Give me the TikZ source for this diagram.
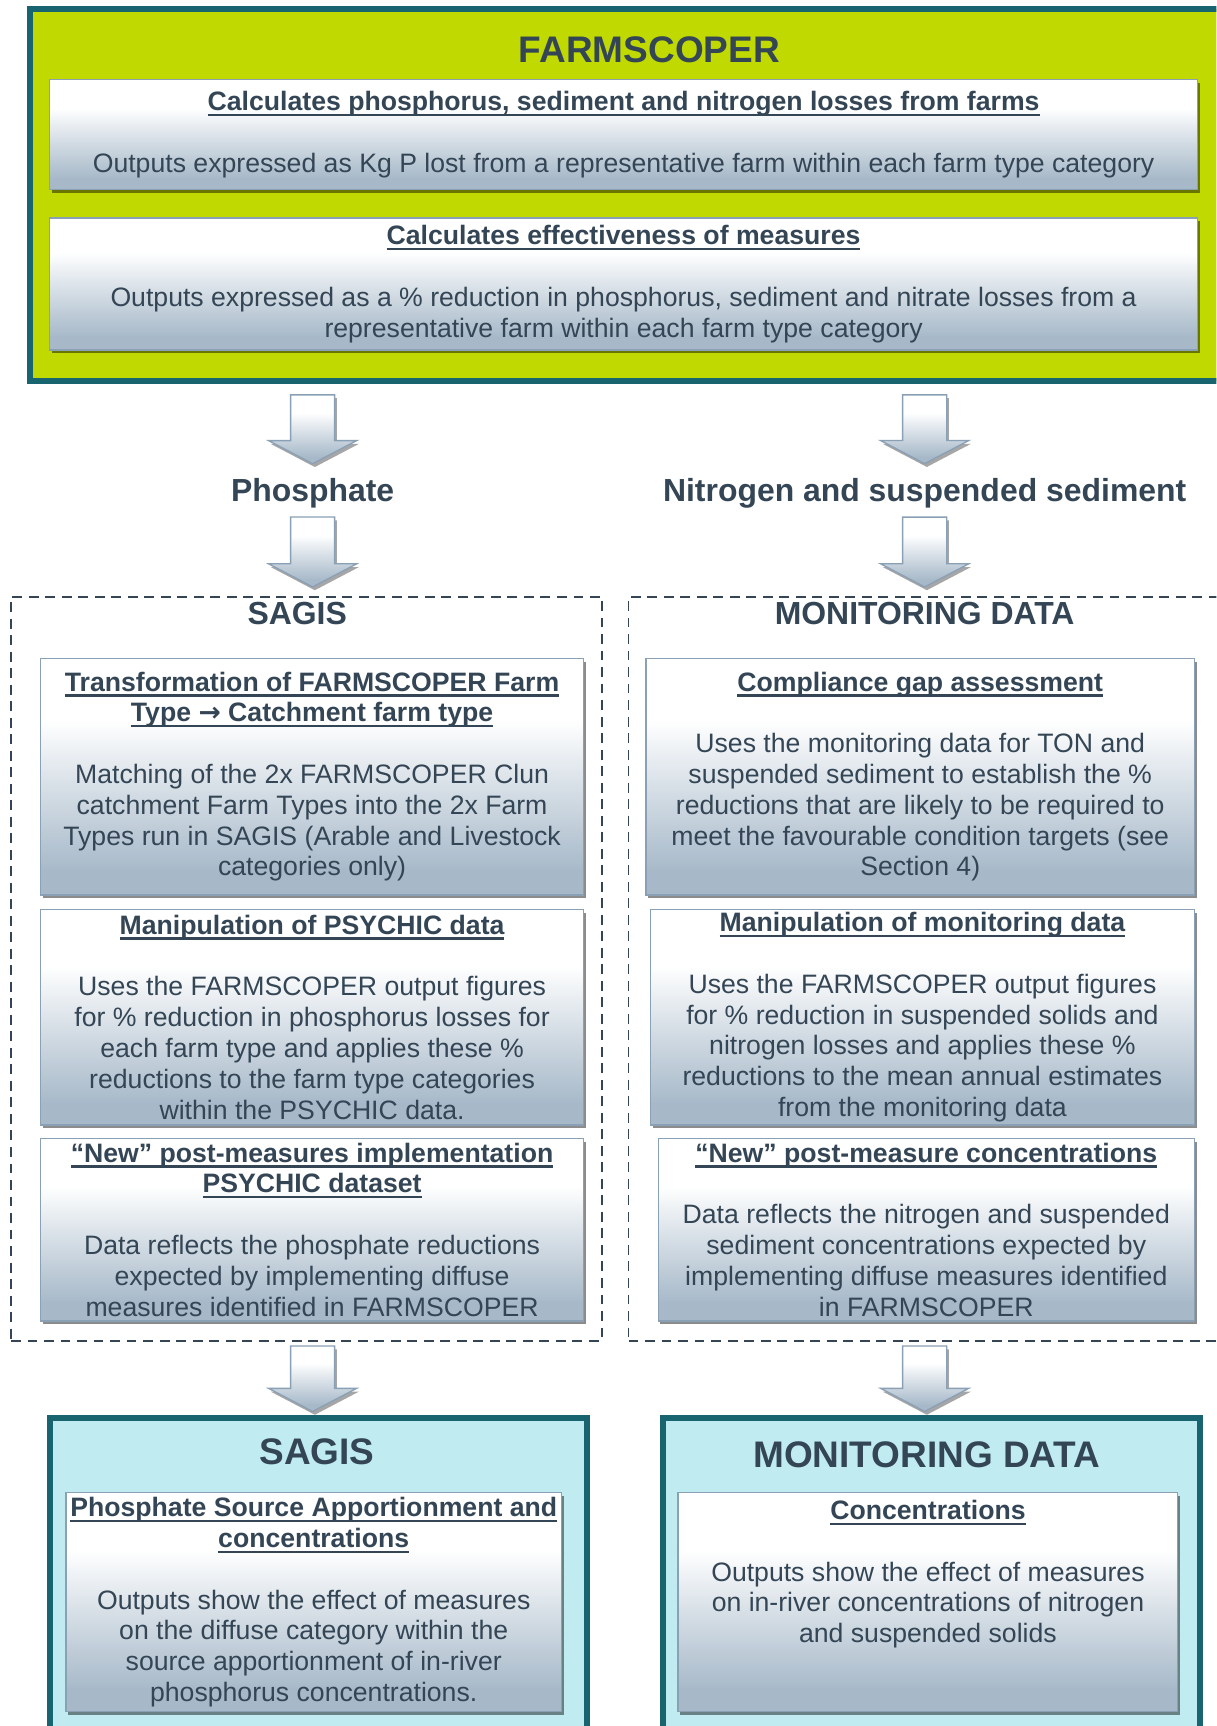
\documentclass[tikz,border=0pt]{standalone}
\usepackage{fontspec}
\setmainfont{Liberation Sans}
\newfontfamily\arrowfont{DejaVu Sans}
\usetikzlibrary{calc,shadows}

\definecolor{limefill}{RGB}{192,217,0}
\definecolor{tealedge}{RGB}{24,101,111}
\definecolor{slatetext}{RGB}{52,70,85}
\definecolor{panelgray}{RGB}{167,185,201}
\definecolor{paneledge}{RGB}{138,160,181}
\definecolor{cyanfill}{RGB}{191,235,241}

\pgfdeclareverticalshading{panelshade}{100bp}{%
  color(0bp)=(panelgray); color(30bp)=(panelgray);
  color(48bp)=(panelgray!45!white); color(62bp)=(white); color(100bp)=(white)}

% bold heading line with underline
\newcommand{\ulhead}[1]{\setbox0=\hbox{\bfseries #1}\rlap{\rule[-5pt]{\wd0}{2pt}}\box0}

% block arrow from top point #1 down to tip #2
\newcommand{\flowarrow}[2]{%
  \path[flowarr] ($(#1)+(-20,0)$) -- ($(#1)+(20,0)$) -- ($(#2)+(20,-21)$)
    -- ($(#2)+(40,-21)$) -- (#2) -- ($(#2)+(-40,-21)$) -- ($(#2)+(-20,-21)$) -- cycle;}

\begin{document}
\begin{tikzpicture}[
    x=1pt, y=-1pt,
    every node/.style={text=slatetext, font=\fontsize{24.2}{28}\selectfont},
    hub/.style={rectangle, draw=tealedge, line width=5.5pt, inner sep=0pt},
    panel/.style={rectangle, draw=paneledge, line width=1.2pt, shading=panelshade,
        drop shadow={shadow xshift=2pt, shadow yshift=-3pt, fill=black, opacity=.45},
        align=center, inner sep=0pt},
    dashframe/.style={rectangle, draw=slatetext, line width=1.6pt, dash pattern=on 9pt off 6pt, inner sep=0pt},
    bigtitle/.style={font=\bfseries\fontsize{33.6}{38}\selectfont, inner sep=2pt},
    subtitle/.style={font=\bfseries\fontsize{29}{33}\selectfont, inner sep=2pt},
    flowarr/.style={draw=paneledge, line width=1.2pt, shading=panelshade,
        drop shadow={shadow xshift=2pt, shadow yshift=-3pt, fill=black, opacity=.35}}
]
\useasboundingbox (0,0) rectangle (1105,1568);
\clip (0,0) rectangle (1105,1568);

% FARMSCOPER block
\node[hub, fill=limefill, minimum width=1108, minimum height=338] (farm) at (581,177) {};
\node[bigtitle] (farmtitle) at (590,45) {FARMSCOPER};
\node[panel, minimum width=1043, minimum height=100] (losses) at (566.5,122) {
    \ulhead{Calculates phosphorus, sediment and nitrogen losses from farms}\\[28pt]
    Outputs expressed as Kg P lost from a representative farm within each farm type category
};
\node[panel, minimum width=1043, minimum height=120] (effect) at (566.5,258) {
    \ulhead{Calculates effectiveness of measures}\\[28pt]
    Outputs expressed as a \% reduction in phosphorus, sediment and nitrate losses from a\\
    representative farm within each farm type category
};

% Pollutant split
\node[subtitle] (phos) at (284,448) {Phosphate};
\node[subtitle] (nitro) at (840,448) {Nitrogen and suspended sediment};

% SAGIS processing
\node[dashframe, minimum width=537, minimum height=676] (sagisframe) at (278.5,880) {};
\node[subtitle] (sagistitle) at (270,557) {SAGIS};
\node[panel, minimum width=493, minimum height=215] (transform) at (283.5,705.5) {
    \ulhead{Transformation of FARMSCOPER Farm}\\
    \ulhead{Type {\arrowfont\bfseries →} Catchment farm type}\\[28pt]
    Matching of the 2x FARMSCOPER Clun\\
    catchment Farm Types into the 2x Farm\\
    Types run in SAGIS (Arable and Livestock\\
    categories only)
};
\node[panel, minimum width=493, minimum height=196] (psychic) at (283.5,924) {
    \ulhead{Manipulation of PSYCHIC data}\\[28pt]
    Uses the FARMSCOPER output figures\\
    for \% reduction in phosphorus losses for\\
    each farm type and applies these \%\\
    reductions to the farm type categories\\
    within the PSYCHIC data.
};
\node[panel, minimum width=493, minimum height=166] (newpsychic) at (283.5,1117) {
    \ulhead{“New” post-measures implementation}\\
    \ulhead{PSYCHIC dataset}\\[28pt]
    Data reflects the phosphate reductions\\
    expected by implementing diffuse\\
    measures identified in FARMSCOPER
};

% Monitoring data processing
\node[dashframe, minimum width=560, minimum height=676] (monframe) at (851,880) {};
\node[subtitle] (montitle) at (840,557) {MONITORING DATA};
\node[panel, minimum width=498, minimum height=215] (gap) at (836,705.5) {
    \ulhead{Compliance gap assessment}\\[28pt]
    Uses the monitoring data for TON and\\
    suspended sediment to establish the \%\\
    reductions that are likely to be required to\\
    meet the favourable condition targets (see\\
    Section 4)
};
\node[panel, minimum width=494, minimum height=196] (monmanip) at (838,924) {
    \ulhead{Manipulation of monitoring data}\\[28pt]
    Uses the FARMSCOPER output figures\\
    for \% reduction in suspended solids and\\
    nitrogen losses and applies these \%\\
    reductions to the mean annual estimates\\
    from the monitoring data
};
\node[panel, minimum width=487, minimum height=166] (newconc) at (841.5,1117) {
    \ulhead{“New” post-measure concentrations}\\[28pt]
    Data reflects the nitrogen and suspended\\
    sediment concentrations expected by\\
    implementing diffuse measures identified\\
    in FARMSCOPER
};

% Outputs
\node[hub, fill=cyanfill, minimum width=488, minimum height=320] (sagisout) at (289.5,1448) {};
\node[bigtitle] (sagisouttitle) at (288,1319) {SAGIS};
\node[panel, minimum width=450, minimum height=199] (apportion) at (285,1455.5) {
    \ulhead{Phosphate Source Apportionment and}\\
    \ulhead{concentrations}\\[28pt]
    Outputs show the effect of measures\\
    on the diffuse category within the\\
    source apportionment of in-river\\
    phosphorus concentrations.
};
\node[hub, fill=cyanfill, minimum width=488, minimum height=320] (monout) at (846,1448) {};
\node[bigtitle] (monouttitle) at (842,1322) {MONITORING DATA};
\node[panel, minimum width=454, minimum height=199] (conc) at (843,1455.5) {
    \ulhead{Concentrations}\\[28pt]
    Outputs show the effect of measures\\
    on in-river concentrations of nitrogen\\
    and suspended solids\\
    \mbox{}\\
    \mbox{}
};

% Arrow ends
\coordinate (p1top) at ($(farm.south -| phos)+(0,10)$);
\coordinate (p1tip) at ($(phos.north)+(0,-11)$);
\coordinate (n1top) at ($(farm.south -| nitro)+(0,10)$);
\coordinate (n1tip) at ($(nitro.north)+(0,-11)$);
\coordinate (p2top) at ($(phos.south)+(0,6)$);
\coordinate (p2tip) at ($(sagisframe.north -| phos)+(0,-8)$);
\coordinate (n2top) at ($(nitro.south)+(0,6)$);
\coordinate (n2tip) at ($(monframe.north -| nitro)+(0,-8)$);
\coordinate (p3top) at ($(sagisframe.south -| phos)+(0,4)$);
\coordinate (p3tip) at ($(sagisout.north -| phos)+(0,-3)$);
\coordinate (n3top) at ($(monframe.south -| nitro)+(0,4)$);
\coordinate (n3tip) at ($(monout.north -| nitro)+(0,-3)$);

% Arrows
\flowarrow{p1top}{p1tip}
\flowarrow{n1top}{n1tip}
\flowarrow{p2top}{p2tip}
\flowarrow{n2top}{n2tip}
\flowarrow{p3top}{p3tip}
\flowarrow{n3top}{n3tip}

\end{tikzpicture}
\end{document}
